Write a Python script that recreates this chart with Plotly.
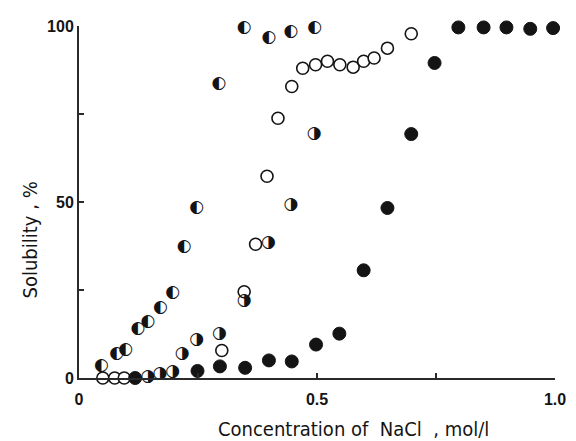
import plotly.graph_objects as go

# Open circles
open_x = [0.05, 0.075, 0.095, 0.30, 0.347, 0.371, 0.395, 0.418, 0.447, 0.47, 0.497, 0.522, 0.548, 0.576, 0.598, 0.62, 0.648, 0.698]
open_y = [0.0, 0.0, 0.0, 7.8, 24.5, 38.0, 57.3, 73.8, 82.8, 88.0, 89.0, 90.0, 89.0, 88.3, 90.0, 90.9, 93.7, 97.8]

# Filled circles
filled_x = [0.118, 0.249, 0.296, 0.349, 0.399, 0.447, 0.498, 0.547, 0.598, 0.648, 0.698, 0.747, 0.797, 0.85, 0.898, 0.948, 0.996]
filled_y = [0.0, 2.0, 3.3, 2.9, 5.0, 4.7, 9.5, 12.6, 30.6, 48.3, 69.3, 89.5, 99.6, 99.6, 99.6, 99.2, 99.4]

# Left-half black circles
left_x = [0.047, 0.079, 0.098, 0.124, 0.145, 0.171, 0.197, 0.221, 0.247, 0.294, 0.347, 0.399, 0.445, 0.495]
left_y = [3.6, 6.8, 8.0, 14.1, 15.9, 20.0, 24.3, 37.3, 48.4, 83.7, 99.6, 96.8, 98.5, 99.6]

# Right-half black circles
right_x = [0.145, 0.170, 0.197, 0.217, 0.247, 0.295, 0.347, 0.398, 0.445, 0.494]
right_y = [0.4, 1.3, 1.9, 7.0, 11.0, 12.5, 22.0, 38.5, 49.2, 69.3]

x_ticks = [0, 0.25, 0.5, 0.75, 1.0]
x_ticktext = ["0", "", "0.5", "", "1.0"]
y_ticks = [0, 25, 50, 75, 100]
y_ticktext = ["0", "", "50", "", "100"]

INK = "#141414"
AXIS = "#2a2a2a"

fig = go.Figure()
fig.add_trace(go.Scatter(
    x=open_x, y=open_y, mode="markers", cliponaxis=False,
    marker=dict(symbol="circle", size=12, color="white", line=dict(color=INK, width=1.6)),
))
fig.add_trace(go.Scatter(
    x=filled_x, y=filled_y, mode="markers", cliponaxis=False,
    marker=dict(symbol="circle", size=13, color=INK, line=dict(color=INK, width=1)),
))
fig.add_trace(go.Scatter(
    x=left_x, y=left_y, mode="text", cliponaxis=False,
    text=["\u25D0"] * len(left_x), textposition="middle center",
    textfont=dict(family="DejaVu Sans", size=17, color=INK),
))
fig.add_trace(go.Scatter(
    x=right_x, y=right_y, mode="text", cliponaxis=False,
    text=["\u25D1"] * len(right_x), textposition="middle center",
    textfont=dict(family="DejaVu Sans", size=17, color=INK),
))

tick_font = dict(family="Liberation Sans", size=16, color=INK, weight="bold")
title_font = dict(family="Liberation Sans Narrow, DejaVu Sans Condensed, DejaVu Sans", size=20, color=INK)

# the page body has an 8px margin, so the figure is 8px smaller and shifted
fig.update_layout(
    width=568, height=433,
    margin=dict(l=71, r=18, t=10, b=63),
    paper_bgcolor="white", plot_bgcolor="white",
    showlegend=False,
    xaxis=dict(range=[0, 1], tickvals=x_ticks, ticktext=x_ticktext, ticks="inside", ticklen=5,
               tickcolor=AXIS, tickwidth=1.5, showline=True, linecolor=AXIS, linewidth=2,
               showgrid=False, zeroline=False, tickfont=tick_font, ticklabelstandoff=6),
    yaxis=dict(range=[0, 100], tickvals=y_ticks, ticktext=y_ticktext, ticks="inside", ticklen=5,
               tickcolor=AXIS, tickwidth=1.5, showline=True, linecolor=AXIS, linewidth=2,
               showgrid=False, zeroline=False, tickfont=tick_font, ticklabelstandoff=0),
    annotations=[
        dict(text="Concentration of  NaCl  , mol/l", xref="paper", yref="paper",
             x=0.576, y=-0.144, xanchor="center", yanchor="middle", showarrow=False, font=title_font),
        dict(text="Solubility , %", xref="paper", yref="paper", textangle=-90,
             x=-0.102, y=0.392, xanchor="center", yanchor="middle", showarrow=False, font=title_font),
    ],
)

fig.write_html("out.html")
